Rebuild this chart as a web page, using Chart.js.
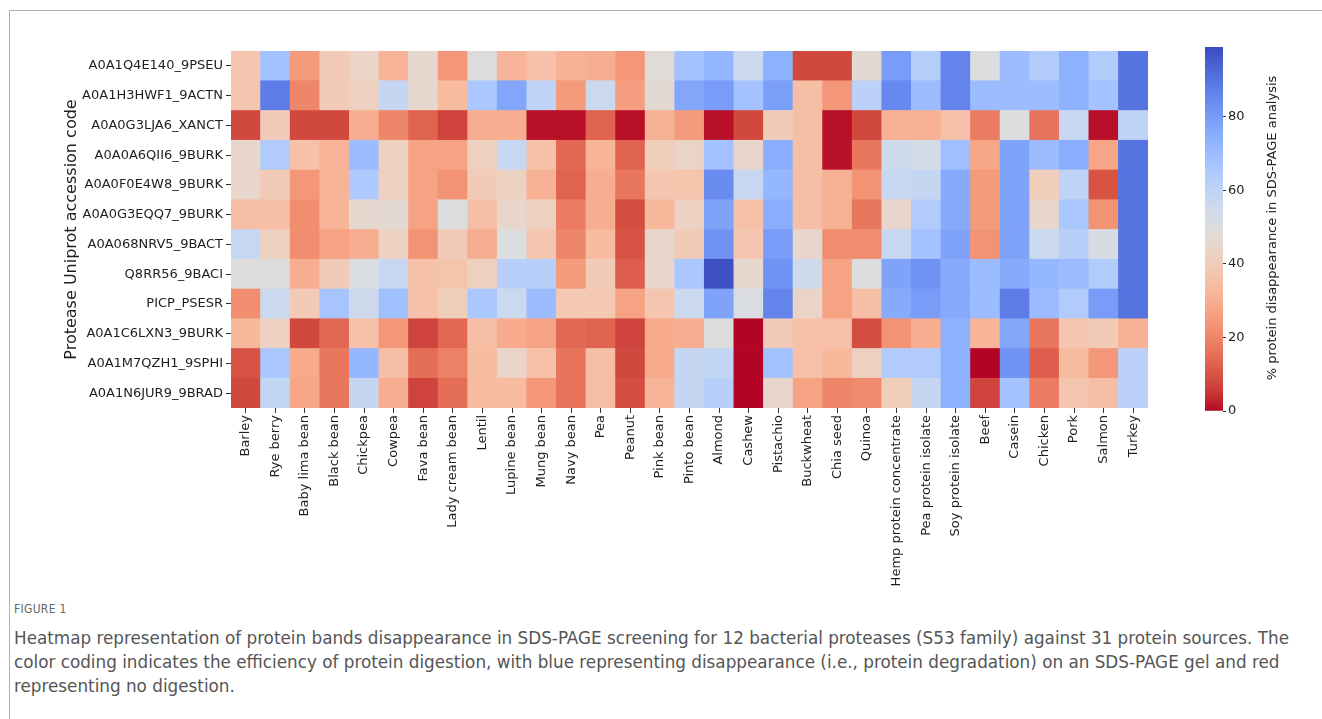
<!DOCTYPE html>
<html>
<head>
<meta charset="utf-8">
<script src="https://cdn.jsdelivr.net/npm/chart.js@4"></script>
<style>
  html, body { margin: 0; padding: 0; background: #fff; }
  body { width: 1322px; height: 719px; position: relative; overflow: hidden; font-family: "DejaVu Sans", sans-serif; }
  #frame { position: absolute; left: 9px; top: 10px; width: 1330px; height: 720px; border-left: 1px solid #b0b0b0; border-top: 1px solid #b0b0b0; }
  #heatmap { position: absolute; left: 62px; top: 0; }
  #colorbar { position: absolute; left: 1150px; top: 0; }
  #cbTitle { position: absolute; left: 1072px; top: 220px; width: 400px; height: 16px; line-height: 16px;
             text-align: center; font-size: 13px; color: #222; transform: rotate(-90deg); white-space: nowrap; }
  #figLabel { position: absolute; left: 14px; top: 602px; font-size: 12px; color: #666; letter-spacing: 0.3px;
              font-family: "Liberation Sans Narrow", "DejaVu Sans Condensed", sans-serif; }
  .capLine { position: absolute; left: 14px; font-size: 17px; line-height: 24px; color: #555; white-space: nowrap;
             font-family: "Liberation Sans Narrow", "DejaVu Sans Condensed", sans-serif; transform-origin: left center; }
</style>
</head>
<body>
<div id="frame"></div>
<canvas id="heatmap" width="1098" height="600"></canvas>
<canvas id="colorbar" width="172" height="430"></canvas>
<div id="cbTitle">% protein disappearance in SDS-PAGE analysis</div>
<div id="figLabel">FIGURE 1</div>
<div class="capLine" id="cap1" style="top:626px">Heatmap representation of protein bands disappearance in SDS-PAGE screening for 12 bacterial proteases (S53 family) against 31 protein sources. The</div>
<div class="capLine" id="cap2" style="top:650px">color coding indicates the efficiency of protein digestion, with blue representing disappearance (i.e., protein degradation) on an SDS-PAGE gel and red</div>
<div class="capLine" id="cap3" style="top:674px">representing no digestion.</div>
<script>
// Protein sources (columns)
const foods = ['Barley', 'Rye berry', 'Baby lima bean', 'Black bean', 'Chickpea', 'Cowpea', 'Fava bean',
    'Lady cream bean', 'Lentil', 'Lupine bean', 'Mung bean', 'Navy bean', 'Pea', 'Peanut', 'Pink bean',
    'Pinto bean', 'Almond', 'Cashew', 'Pistachio', 'Buckwheat', 'Chia seed', 'Quinoa',
    'Hemp protein concentrate', 'Pea protein isolate', 'Soy protein isolate', 'Beef', 'Casein', 'Chicken',
    'Pork', 'Salmon', 'Turkey'];

// Proteases (rows, top to bottom)
const proteases = ['A0A1Q4E140_9PSEU', 'A0A1H3HWF1_9ACTN', 'A0A0G3LJA6_XANCT', 'A0A0A6QII6_9BURK',
    'A0A0F0E4W8_9BURK', 'A0A0G3EQQ7_9BURK', 'A0A068NRV5_9BACT', 'Q8RR56_9BACI', 'PICP_PSESR',
    'A0A1C6LXN3_9BURK', 'A0A1M7QZH1_9SPHI', 'A0A1N6JUR9_9BRAD'];

// % protein disappearance, one array per protease, in the order of `foods`
const pseu9 = [38, 68, 25, 40, 44, 32, 46, 24, 49, 32, 36, 31, 30, 24, 48, 68, 72, 56, 74, 8, 8, 47, 80, 63, 86, 50, 70, 64, 74, 64, 90];
const actn9 = [38, 88, 20, 40, 42, 58, 46, 34, 66, 77, 60, 25, 56, 26, 47, 77, 80, 68, 79, 35, 24, 61, 85, 70, 86, 70, 70, 70, 74, 68, 90];
const xanct = [8, 40, 8, 8, 30, 20, 13, 7, 30, 30, 1, 1, 13, 1, 31, 25, 1, 8, 40, 35, 1, 8, 31, 31, 36, 18, 50, 16, 57, 1, 60];
const burkQii6 = [45, 64, 36, 32, 70, 42, 27, 27, 42, 57, 36, 14, 32, 13, 41, 44, 68, 45, 75, 35, 1, 17, 55, 53, 69, 28, 78, 70, 75, 28, 90];
const burkE4w8 = [45, 40, 24, 32, 65, 42, 27, 23, 40, 43, 31, 13, 30, 17, 38, 37, 84, 57, 72, 35, 31, 23, 57, 58, 76, 25, 78, 41, 60, 10, 90];
const burkEqq7 = [35, 35, 22, 32, 46, 47, 27, 50, 35, 45, 42, 18, 30, 9, 33, 43, 78, 36, 75, 35, 31, 17, 45, 64, 76, 25, 78, 45, 66, 23, 90];
const bact9 = [57, 42, 22, 27, 30, 43, 23, 40, 30, 50, 38, 20, 34, 10, 45, 40, 82, 38, 80, 45, 22, 22, 57, 68, 78, 23, 78, 56, 62, 52, 90];
const baci9 = [49, 49, 30, 40, 51, 57, 36, 37, 42, 62, 62, 25, 40, 12, 45, 66, 98, 46, 82, 55, 27, 50, 78, 82, 76, 70, 76, 72, 70, 64, 90];
const picp = [22, 56, 40, 67, 55, 69, 36, 41, 66, 56, 70, 39, 39, 27, 38, 56, 78, 51, 86, 44, 27, 35, 76, 80, 76, 70, 88, 70, 64, 80, 90];
const burkLxn3 = [33, 43, 8, 14, 36, 24, 7, 14, 35, 29, 27, 14, 13, 7, 29, 30, 49, 0, 40, 36, 36, 9, 23, 30, 74, 32, 77, 17, 38, 40, 31];
const sphi9 = [10, 66, 29, 17, 72, 35, 15, 19, 34, 44, 36, 16, 35, 8, 29, 58, 59, 0, 68, 36, 33, 42, 64, 64, 74, 0, 82, 12, 34, 24, 61];
const brad9 = [8, 59, 28, 17, 58, 30, 7, 15, 34, 34, 24, 16, 35, 9, 32, 58, 62, 0, 45, 27, 20, 21, 41, 58, 74, 7, 68, 18, 38, 35, 61];

const rows = [pseu9, actn9, xanct, burkQii6, burkE4w8, burkEqq7, bact9, baci9, picp, burkLxn3, sphi9, brad9];

// Colour bar range and ticks
const cbMin = 0;
const cbMax = 99;
const cbStep = 20;

// coolwarm lookup (blue -> grey -> red), reversed below so 0 = red
const coolwarm = [
    [59, 76, 192], [68, 90, 204], [77, 104, 215], [87, 117, 225], [98, 130, 234], [108, 142, 241],
    [119, 154, 247], [130, 165, 251], [141, 176, 254], [152, 185, 255], [163, 194, 255], [174, 201, 253],
    [184, 208, 249], [194, 213, 244], [204, 217, 238], [213, 219, 230], [221, 221, 221], [229, 216, 209],
    [236, 211, 197], [241, 204, 185], [245, 196, 173], [247, 187, 160], [247, 177, 148], [247, 166, 135],
    [244, 154, 123], [241, 141, 111], [236, 127, 99], [229, 112, 88], [222, 96, 77], [213, 80, 66],
    [203, 62, 56], [192, 40, 47], [180, 4, 38]
];

function lookup(s) {
    s = Math.min(1, Math.max(0, s));
    const pos = s * (coolwarm.length - 1);
    const i = Math.min(Math.floor(pos), coolwarm.length - 2);
    const f = pos - i;
    const a = coolwarm[i], b = coolwarm[i + 1];
    const c = a.map((v, k) => Math.round(v + (b[k] - v) * f));
    return `rgb(${c[0]}, ${c[1]}, ${c[2]})`;
}

// value -> colour (coolwarm_r)
function valueColor(v) {
    return lookup(1 - (v - cbMin) / (cbMax - cbMin));
}

const tickFont = { family: 'DejaVu Sans', size: 13 };
const textColor = '#1e1e1e';

// One stacked dataset per protease; bottom row first so the first protease sits on top
const heatDatasets = rows.map((vals, j) => ({
    label: proteases[j],
    data: vals.map(() => 1),
    backgroundColor: vals.map(valueColor),
    borderWidth: 0,
    barPercentage: 1,
    categoryPercentage: 1
})).reverse();

new Chart(document.getElementById('heatmap'), {
    type: 'bar',
    data: { labels: foods, datasets: heatDatasets },
    options: {
        responsive: false,
        animation: false,
        devicePixelRatio: 1,
        layout: { padding: { top: 51, right: 12, left: 0, bottom: 0 } },
        plugins: { legend: { display: false }, tooltip: { enabled: false } },
        scales: {
            x: {
                stacked: true,
                border: { display: false },
                grid: { offset: false, drawOnChartArea: false, drawTicks: true, tickLength: 5, color: '#333' },
                ticks: { autoSkip: false, minRotation: 90, maxRotation: 90, padding: 2, color: textColor, font: tickFont },
                afterFit: (scale) => { scale.height = 192; }
            },
            y: {
                stacked: true,
                min: 0,
                max: proteases.length,
                border: { display: false },
                grid: { drawOnChartArea: false, drawTicks: true, tickLength: 5, color: '#333' },
                afterBuildTicks: (axis) => {
                    axis.ticks = proteases.map((_, j) => ({ value: proteases.length - j - 0.5 }));
                },
                ticks: {
                    padding: 3,
                    color: textColor,
                    font: tickFont,
                    callback: (v) => proteases[proteases.length - 1 - Math.floor(v)]
                },
                title: {
                    display: true,
                    text: 'Protease Uniprot accession code',
                    color: textColor,
                    font: { family: 'DejaVu Sans', size: 16 },
                    padding: 0
                },
                afterFit: (scale) => { scale.width = 169; }
            }
        }
    }
});

// Colour bar
function barGradient(context) {
    const area = context.chart.chartArea;
    if (!area) return null;
    const g = context.chart.ctx.createLinearGradient(0, area.bottom, 0, area.top);
    coolwarm.forEach((_, k) => {
        const s = k / (coolwarm.length - 1);
        g.addColorStop(1 - s, lookup(s));
    });
    return g;
}

new Chart(document.getElementById('colorbar'), {
    type: 'bar',
    data: {
        labels: [''],
        datasets: [{ data: [[cbMin, cbMax]], backgroundColor: barGradient, borderWidth: 0,
            barPercentage: 1, categoryPercentage: 1 }]
    },
    options: {
        responsive: false,
        animation: false,
        devicePixelRatio: 1,
        layout: { padding: { top: 47, left: 55, right: 0, bottom: 19 } },
        plugins: { legend: { display: false }, tooltip: { enabled: false } },
        scales: {
            x: { display: false },
            y: {
                position: 'right',
                min: cbMin,
                max: cbMax,
                border: { display: false },
                grid: { drawOnChartArea: false, drawTicks: true, tickLength: 3, color: '#333' },
                ticks: { stepSize: cbStep, includeBounds: false, padding: 2, color: textColor, font: tickFont },
                afterFit: (scale) => { scale.width = 99; }
            }
        }
    }
});

// Stretch caption lines to the same width as in the figure
const cap1 = document.getElementById('cap1');
const scaleX = 1275 / cap1.getBoundingClientRect().width;
document.querySelectorAll('.capLine').forEach((el) => {
    el.style.transform = `scaleX(${scaleX})`;
});
</script>
</body>
</html>
